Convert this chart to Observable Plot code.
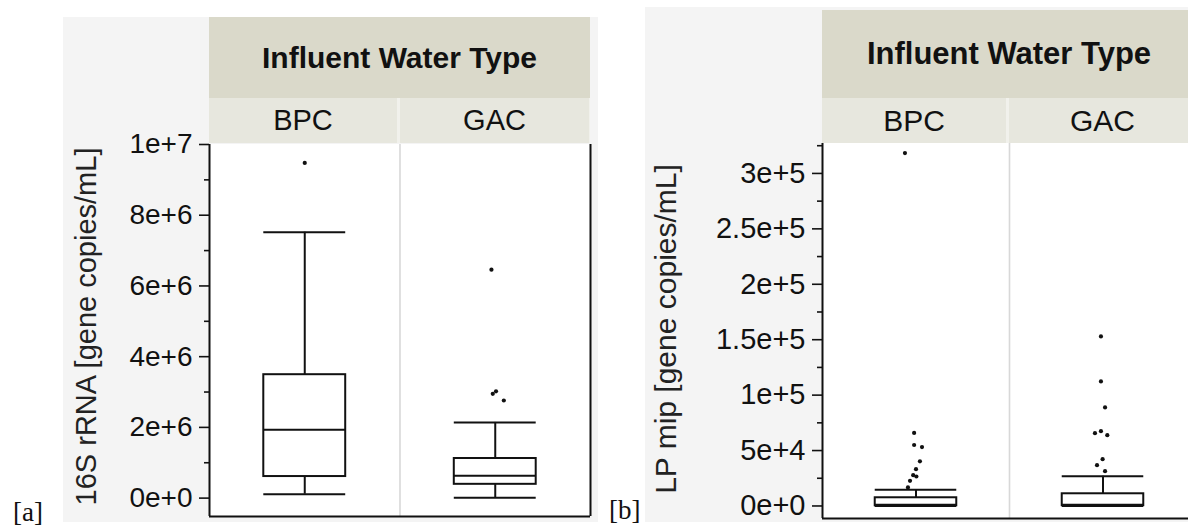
<!DOCTYPE html>
<html>
<head>
<meta charset="utf-8">
<script src="https://cdn.jsdelivr.net/npm/d3@7"></script>
<script src="https://cdn.jsdelivr.net/npm/@observablehq/plot@0.6"></script>
<style>
  body { margin: 0; background: #fff; font-family: "Liberation Sans", Arial, sans-serif; }
  #root { position: relative; width: 1188px; height: 527px; overflow: hidden; background: #fff; }
  .abs { position: absolute; box-sizing: border-box; }
  .bg { background: #f4f4f4; }
  .hdr { background: #dad9ca; display: flex; align-items: center; justify-content: center; font-weight: bold; color: #111; }
  .strip { background: #f1f1ec; }
  .sub { background: #e7e7de; display: flex; align-items: center; justify-content: center; color: #111; }
  .tag { font-family: "Liberation Serif", "Times New Roman", serif; font-size: 27px; line-height: 27px; color: #111; }
  svg.plotsvg { position: absolute; top: 0; }
</style>
</head>
<body>
<div id="root"></div>
<script>
// Influent water types (facets) and the shared facet header
const waterTypes = ["BPC", "GAC"];
const facetTitle = "Influent Water Type";

// [a] 16S rRNA, gene copies/mL: box summaries per water type
const rrnaLow = [0.11e6, 0.01e6];
const rrnaQ1 = [0.61e6, 0.39e6];
const rrnaMedian = [1.93e6, 0.63e6];
const rrnaQ3 = [3.49e6, 1.12e6];
const rrnaHigh = [7.52e6, 2.14e6];
const rrnaOutlierType = ["BPC", "GAC", "GAC", "GAC", "GAC"];
const rrnaOutlierValue = [9.48e6, 6.46e6, 3.02e6, 2.95e6, 2.76e6];
const rrnaOutlierJitter = [0, -0.02, 0.004, -0.013, 0.045];
const rrnaTicks = [0, 2e6, 4e6, 6e6, 8e6, 1e7];
const rrnaTickLabels = ["0e+0", "2e+6", "4e+6", "6e+6", "8e+6", "1e+7"];
const rrnaMinorTicks = [1e6, 3e6, 5e6, 7e6, 9e6];

// [b] LP mip, gene copies/mL: box summaries per water type
const lpLow = [0, 0];
const lpQ1 = [200, 300];
const lpMedian = [1000, 1200];
const lpQ3 = [7400, 11000];
const lpHigh = [14600, 26900];
const lpOutlierType = ["BPC", "BPC", "BPC", "BPC", "BPC", "BPC", "BPC", "BPC", "BPC", "BPC",
                       "GAC", "GAC", "GAC", "GAC", "GAC", "GAC", "GAC", "GAC", "GAC"];
const lpOutlierValue = [318400, 65900, 55000, 53100, 40300, 33200, 27800, 26600, 22700, 16700,
                        153000, 112400, 88900, 65700, 67500, 63900, 42200, 36800, 31400];
const lpOutlierJitter = [-0.059, -0.01, -0.01, 0.032, 0.021, 0, -0.015, 0.002, -0.032, -0.043,
                         -0.011, -0.011, 0.011, -0.043, -0.011, 0.023, -0.002, -0.032, 0.011];
const lpTicks = [0, 5e4, 1e5, 1.5e5, 2e5, 2.5e5, 3e5];
const lpTickLabels = ["0e+0", "5e+4", "1e+5", "1.5e+5", "2e+5", "2.5e+5", "3e+5"];
const lpMinorTicks = [2.5e4, 7.5e4, 1.25e5, 1.75e5, 2.25e5, 2.75e5, 3.25e5];

const root = document.getElementById("root");

function addDiv(cls, left, top, width, height, text, extra = {}) {
  const el = document.createElement("div");
  el.className = "abs " + cls;
  Object.assign(el.style, {left: left + "px", top: top + "px"});
  if (width != null) el.style.width = width + "px";
  if (height != null) el.style.height = height + "px";
  Object.assign(el.style, extra);
  if (text != null) el.textContent = text;
  root.appendChild(el);
  return el;
}

// One boxplot chart: two water-type bands on a linear x of [0, 2]
function boxChart(o) {
  const boxes = waterTypes.map((t, i) => ({
    type: t, pos: i + 0.5,
    low: o.low[i], q1: o.q1[i], median: o.median[i], q3: o.q3[i], high: o.high[i]
  }));
  const outliers = o.outType.map((t, i) => ({
    pos: waterTypes.indexOf(t) + 0.5 + o.outJitter[i], value: o.outValue[i]
  }));
  const [y0, y1] = o.yDomain;
  const h = o.boxHalf;
  const ink = "#111";
  const sw = 2;
  return Plot.plot({
    width: o.width,
    height: 527,
    marginLeft: o.marginLeft,
    marginRight: o.marginRight,
    marginTop: o.marginTop,
    marginBottom: o.marginBottom,
    x: {domain: [0, 2], axis: null},
    y: {domain: o.yDomain, axis: null},
    style: {
      background: "transparent",
      fontFamily: "'Liberation Sans', Arial, sans-serif",
      fontSize: o.fontSize + "px",
      color: ink,
      overflow: "visible",
      maxWidth: "none"
    },
    marks: [
      // white plotting bands
      Plot.rect(waterTypes, {x1: (d, i) => i, x2: (d, i) => i + 1, y1: y0, y2: y1, fill: "white"}),
      // divider between the two water types
      Plot.ruleX([1], {y1: y0, y2: y1, stroke: "#d8d8d8", strokeWidth: 1.6}),
      // whiskers, boxes, medians and caps
      Plot.ruleX(boxes, {x: "pos", y1: "low", y2: "high", stroke: ink, strokeWidth: sw}),
      Plot.rect(boxes, {x1: d => d.pos - h, x2: d => d.pos + h, y1: "q1", y2: "q3", fill: "white", stroke: ink, strokeWidth: sw}),
      Plot.ruleY(boxes, {y: "median", x1: d => d.pos - h, x2: d => d.pos + h, stroke: ink, strokeWidth: sw}),
      Plot.ruleY(boxes, {y: "low", x1: d => d.pos - h, x2: d => d.pos + h, stroke: ink, strokeWidth: sw}),
      Plot.ruleY(boxes, {y: "high", x1: d => d.pos - h, x2: d => d.pos + h, stroke: ink, strokeWidth: sw}),
      // outliers
      Plot.dot(outliers, {x: "pos", y: "value", r: 2.1, fill: ink, stroke: null}),
      // y axis: labelled major ticks and short minor ticks
      Plot.axisY(o.ticks, {
        tickSize: 10, tickPadding: 7, strokeWidth: 1.6, label: null,
        tickFormat: d => o.tickLabels[o.ticks.indexOf(d)]
      }),
      Plot.axisY(o.minorTicks, {tickSize: 5, strokeWidth: 1.6, label: null, tickFormat: () => ""}),
      // frame: left axis line, right edge, bottom edge
      Plot.ruleX([0, 2], {y1: y0, y2: y1, stroke: ink, strokeWidth: sw}),
      Plot.ruleY([y0], {x1: 0, x2: 2, stroke: ink, strokeWidth: sw}),
      // y-axis title
      Plot.text([o.title], {
        frameAnchor: "left", rotate: -90, dx: o.titleDx, dy: o.titleDy,
        fontSize: o.titleSize, lineAnchor: "middle", textAnchor: "middle", fill: "#222"
      })
    ]
  });
}

// ---- panel [a] ----
addDiv("bg", 63, 17, 535, 505);
addDiv("hdr", 209, 17, 381, 81, facetTitle, {fontSize: "30px"});
addDiv("strip", 209, 98, 381, 45);
addDiv("sub", 209, 98, 188, 45, waterTypes[0], {fontSize: "29px"});
addDiv("sub", 400, 98, 189, 45, waterTypes[1], {fontSize: "29px"});
addDiv("tag", 13, 499, null, null, "[a]");

const chartA = boxChart({
  low: rrnaLow, q1: rrnaQ1, median: rrnaMedian, q3: rrnaQ3, high: rrnaHigh,
  outType: rrnaOutlierType, outValue: rrnaOutlierValue, outJitter: rrnaOutlierJitter,
  ticks: rrnaTicks, tickLabels: rrnaTickLabels, minorTicks: rrnaMinorTicks,
  yDomain: [-0.52e6, 1e7],
  width: 600, marginLeft: 209, marginRight: 10, marginTop: 144, marginBottom: 11,
  boxHalf: 0.215, fontSize: 28,
  title: "16S rRNA [gene copies/mL]", titleSize: 29, titleDx: -123, titleDy: -4
});
chartA.classList.add("plotsvg");
chartA.style.left = "0px";
root.appendChild(chartA);

// ---- panel [b] ----
addDiv("bg", 645, 7, 560, 515);
addDiv("hdr", 822, 10, 374, 88, facetTitle, {fontSize: "31px"});
addDiv("strip", 822, 98, 374, 45);
addDiv("sub", 822, 98, 184, 45, waterTypes[0], {fontSize: "30px"});
addDiv("sub", 1009, 98, 187, 45, waterTypes[1], {fontSize: "30px"});
addDiv("tag", 609, 497, null, null, "[b]");

const chartB = boxChart({
  low: lpLow, q1: lpQ1, median: lpMedian, q3: lpQ3, high: lpHigh,
  outType: lpOutlierType, outValue: lpOutlierValue, outJitter: lpOutlierJitter,
  ticks: lpTicks, tickLabels: lpTickLabels, minorTicks: lpMinorTicks,
  yDomain: [-11300, 327000],
  width: 610, marginLeft: 232, marginRight: 4, marginTop: 143, marginBottom: 9,
  boxHalf: 0.218, fontSize: 29,
  title: "LP mip [gene copies/mL]", titleSize: 30, titleDx: -156, titleDy: -2
});
chartB.classList.add("plotsvg");
chartB.style.left = "590px";
root.appendChild(chartB);
</script>
</body>
</html>
